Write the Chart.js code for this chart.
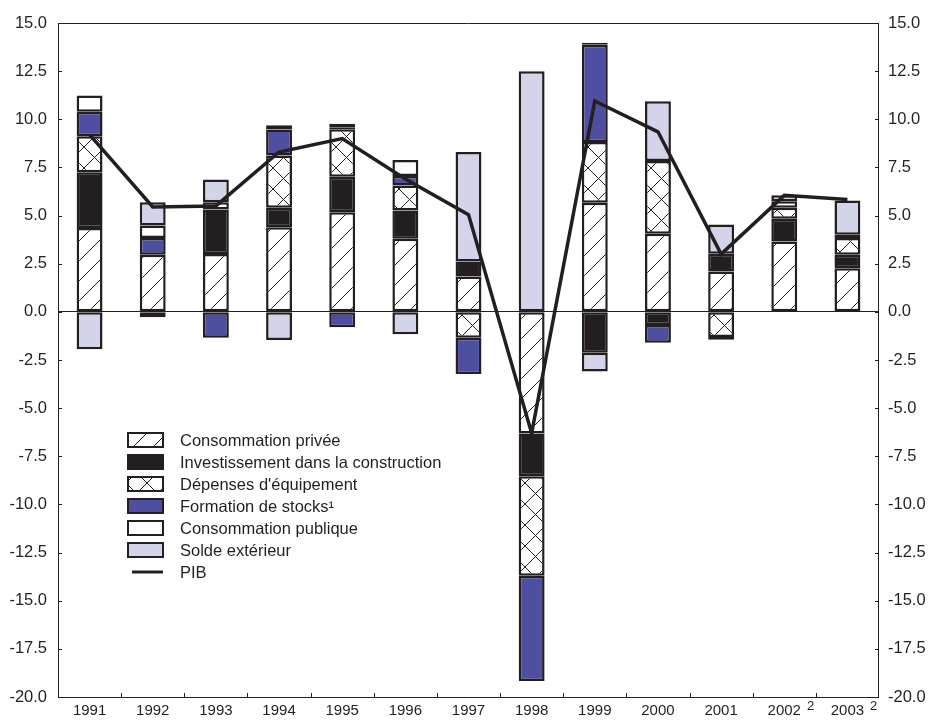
<!DOCTYPE html>
<html lang="fr">
<head>
<meta charset="UTF-8">
<title>Contributions à la croissance du PIB</title>
<script src="https://cdn.jsdelivr.net/npm/chart.js"></script>
<style>
  body { margin: 0; background: #fff; }
</style>
</head>
<body>
<canvas id="chart" width="928" height="721"></canvas>
<script>
// categories and footnote markers
const years = ['1991', '1992', '1993', '1994', '1995', '1996', '1997', '1998', '1999', '2000', '2001', '2002', '2003'];
const yearNotes = ['', '', '', '', '', '', '', '', '', '', '', '2', '2'];

// contributions (points de pourcentage), null = pas de segment
const consPrivee = [4.35, 2.97, 3.0, 4.39, 5.17, 3.8, 1.84, -6.32, 5.66, 4.06, 2.1, 3.66, 2.27];
const investConstr = [2.9, -0.28, 2.31, 1.01, 1.84, 1.46, 0.78, -2.22, -2.12, -0.68, 0.92, 1.18, 0.7];
const depEquip = [1.87, null, null, 2.72, 2.47, 1.3, -1.34, -5.16, 3.16, 3.77, -1.3, 0.56, 0.87];
const stocks = [1.27, 0.87, -1.34, 1.35, -0.8, 0.5, -1.89, -5.47, 5.05, -0.92, -0.15, null, null];
const consPublique = [0.85, 0.64, 0.38, 0.22, 0.1, 0.82, null, null, 0.1, null, null, 0.35, 0.16];
const soldeExt = [-1.94, 1.21, 1.18, -1.46, 0.19, -1.16, 5.68, 12.5, -0.98, 3.11, 1.51, 0.31, 1.78];
const pib = [9.2, 5.45, 5.5, 8.3, 9.0, 6.9, 5.05, -6.3, 10.95, 9.35, 3.0, 6.05, 5.83];

// axis range
const yMin = -20, yMax = 15, yStep = 2.5;

const ink = '#231f20';
const font = 'Liberation Sans, Arial, sans-serif';

function makePattern(size, cross) {
  const c = document.createElement('canvas');
  c.width = size; c.height = size;
  const g = c.getContext('2d');
  g.fillStyle = '#fff';
  g.fillRect(0, 0, size, size);
  g.strokeStyle = ink;
  g.lineWidth = 1;
  g.beginPath();
  for (const o of [-size, 0, size]) {
    g.moveTo(o, size); g.lineTo(o + size, 0);
    if (cross) { g.moveTo(o, 0); g.lineTo(o + size, size); }
  }
  g.stroke();
  return g.createPattern(c, 'repeat');
}

const ctx = document.getElementById('chart').getContext('2d');
const hatch = makePattern(20, false);
const crossHatch = makePattern(21, true);

function bar(label, data, fill) {
  return {
    type: 'bar', label: label, data: data,
    backgroundColor: fill, borderColor: ink, borderWidth: 2.5,
    borderSkipped: false, stack: 'contrib',
    barPercentage: 0.41, categoryPercentage: 1.0
  };
}

// axis frame, inward ticks, footnote superscripts and legend box
const decorations = {
  id: 'decorations',
  afterDraw(chart) {
    const c = chart.ctx;
    const a = chart.chartArea;
    const y = chart.scales.y;
    c.save();
    c.strokeStyle = ink;
    c.lineWidth = 1;
    c.beginPath();
    c.rect(a.left + 0.5, a.top + 0.5, a.right - a.left - 1, a.bottom - a.top);
    for (let v = yMin; v <= yMax; v += yStep) {
      const py = Math.round(y.getPixelForValue(v)) + 0.5;
      c.moveTo(a.left, py); c.lineTo(a.left + 4, py);
      c.moveTo(a.right - 4, py); c.lineTo(a.right, py);
    }
    const w = (a.right - a.left) / years.length;
    for (let i = 1; i < years.length; i++) {
      const px = Math.round(a.left + i * w) + 0.5;
      c.moveTo(px, a.bottom); c.lineTo(px, a.bottom - 4);
    }
    c.stroke();

    // superscripts on year labels
    const x = chart.scales.x;
    c.fillStyle = ink;
    c.textBaseline = 'top';
    years.forEach((yr, i) => {
      if (!yearNotes[i]) return;
      c.font = '15px ' + font;
      const tw = c.measureText(yr).width;
      const cx = x.getPixelForValue(i);
      c.font = '13px ' + font;
      c.fillText(yearNotes[i], cx + tw / 2 + 6, a.bottom + 3);
    });

    // legend inside the plot
    const lx = 128, ly = 433, row = 22;
    c.textBaseline = 'middle';
    c.font = '16.5px ' + font;
    chart.data.datasets.forEach((ds, i) => {
      const top = ly + i * row;
      if (ds.type === 'line') {
        c.strokeStyle = ink;
        c.lineWidth = 3;
        c.beginPath();
        c.moveTo(lx + 4, top + 7); c.lineTo(lx + 35, top + 7);
        c.stroke();
      } else {
        c.fillStyle = ds.backgroundColor;
        c.fillRect(lx, top, 35, 14);
        c.strokeStyle = ink;
        c.lineWidth = 2;
        c.strokeRect(lx, top, 35, 14);
      }
      c.fillStyle = ink;
      c.fillText(ds.label, 180, top + 8);
    });
    c.restore();
  }
};

new Chart(ctx, {
  data: {
    labels: years,
    datasets: [
      bar('Consommation privée', consPrivee, hatch),
      bar('Investissement dans la construction', investConstr, ink),
      bar("Dépenses d'équipement", depEquip, crossHatch),
      bar('Formation de stocks¹', stocks, '#4f4fa1'),
      bar('Consommation publique', consPublique, '#ffffff'),
      bar('Solde extérieur', soldeExt, '#d3d3e9'),
      {
        type: 'line', label: 'PIB', data: pib,
        borderColor: ink, borderWidth: 3.5, pointRadius: 0,
        fill: false, tension: 0, order: -1, stack: 'pib'
      }
    ]
  },
  options: {
    responsive: false,
    animation: false,
    layout: { padding: { top: 23, left: 0, right: 0, bottom: 0 } },
    plugins: { legend: { display: false }, tooltip: { enabled: false } },
    scales: {
      x: {
        stacked: true,
        offset: true,
        grid: { display: false, drawTicks: false },
        border: { display: false },
        ticks: { color: ink, font: { family: font, size: 15 }, padding: 5, maxRotation: 0, autoSkip: false },
        afterFit(s) { s.height = 24; }
      },
      y: {
        stacked: true,
        position: 'left',
        min: yMin, max: yMax,
        grid: {
          drawTicks: false,
          color: c => (c.tick && c.tick.value === 0 ? ink : 'rgba(0,0,0,0)'),
          lineWidth: 1
        },
        border: { display: false },
        ticks: {
          stepSize: yStep, color: ink, padding: 11,
          font: { family: font, size: 16.5 },
          callback: v => v.toFixed(1)
        },
        afterFit(s) { s.width = 58; }
      },
      y2: {
        position: 'right',
        min: yMin, max: yMax,
        grid: { display: false, drawTicks: false },
        border: { display: false },
        ticks: {
          stepSize: yStep, color: ink, padding: 9,
          font: { family: font, size: 16.5 },
          callback: v => v.toFixed(1)
        },
        afterFit(s) { s.width = 49; }
      }
    }
  },
  plugins: [decorations]
});
</script>
</body>
</html>
